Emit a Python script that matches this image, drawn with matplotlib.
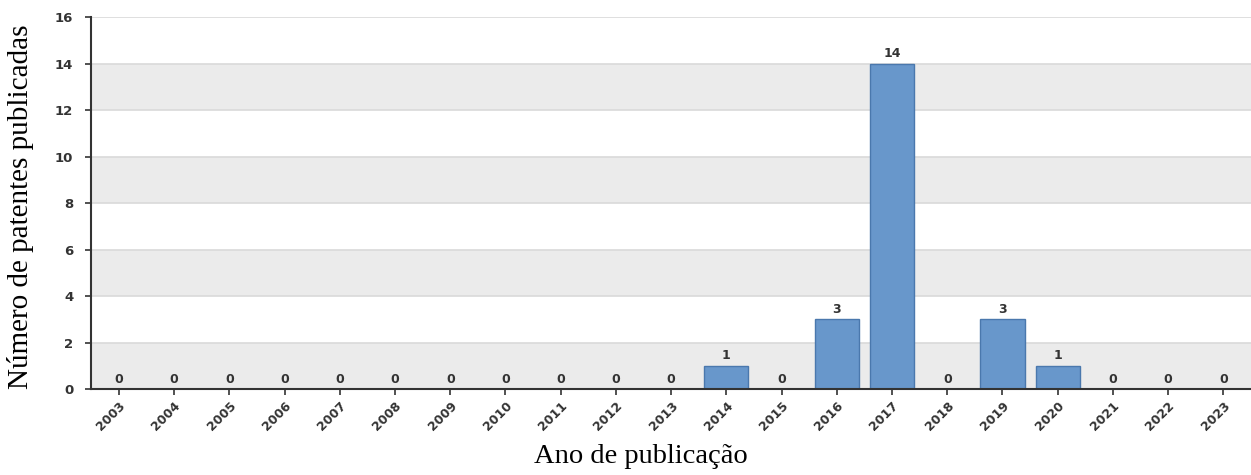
import matplotlib.pyplot as plt
import numpy as np

anos = [str(a) for a in range(2003, 2024)]
patentes = [0, 0, 0, 0, 0, 0, 0, 0, 0, 0, 0, 1, 0, 3, 14, 0, 3, 1, 0, 0, 0]

fig = plt.figure(figsize=(12.51, 4.75), dpi=100)
ax = fig.add_axes([0.073, 0.181, 0.927, 0.783])

x = np.arange(len(anos))

# faixas cinza alternadas
for y0 in range(0, 16, 4):
    ax.axhspan(y0, y0 + 2, color='#ebebeb', zorder=0, lw=0)
for y in range(2, 17, 2):
    ax.axhline(y, color='#d9d9d9', lw=1.2, zorder=1)

bars = ax.bar(x, patentes, width=0.8, color='#6897cb', edgecolor='#4a78ad',
              linewidth=1, zorder=2)
for xi, v in zip(x, patentes):
    ax.text(xi, v + 0.15, str(v), ha='center', va='bottom', fontsize=9,
            fontweight='bold', color='#333333')

ax.set_xlim(-0.5, 20.5)
ax.set_ylim(0, 16)
ax.set_yticks(range(0, 17, 2))
ax.set_xticks(x)
ax.set_xticklabels(anos, rotation=45, ha='right', rotation_mode='anchor')
ax.tick_params(axis='both', labelsize=9, colors='#333333', length=4, width=1.2)
ax.tick_params(axis='y', pad=9, labelsize=9.5)
for lab in ax.get_xticklabels() + ax.get_yticklabels():
    lab.set_fontweight('bold')

for s in ['top', 'right']:
    ax.spines[s].set_visible(False)
for s in ['left', 'bottom']:
    ax.spines[s].set_color('#333333')
    ax.spines[s].set_linewidth(1.5)

ax.set_ylabel('Número de patentes publicadas', fontsize=21,
              fontfamily='Liberation Serif')
ax.set_xlabel('Ano de publicação', fontsize=20.5,
              fontfamily='Liberation Serif')
ax.yaxis.set_label_coords(-0.049, 0.49)
ax.xaxis.set_label_coords(0.474, -0.148)

fig.savefig('out.png', dpi=100)
